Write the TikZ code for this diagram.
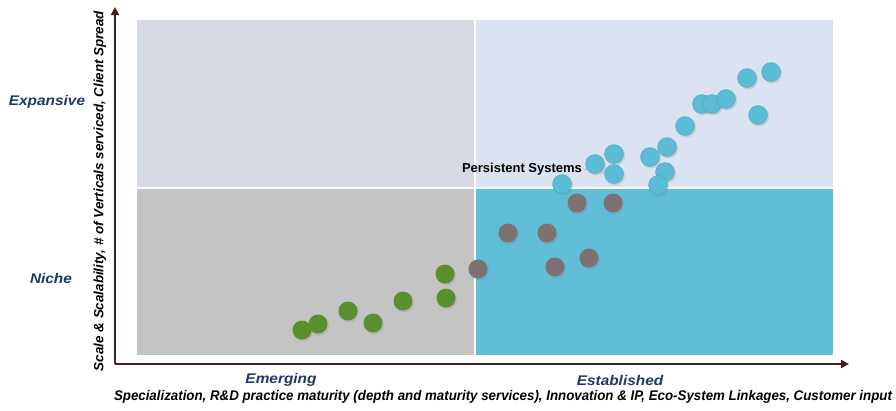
\documentclass[tikz,border=0pt]{standalone}
\usepackage{fontspec}
\setmainfont{Liberation Sans}
\newfontfamily\narrowfont[FakeStretch=0.95]{Liberation Sans}
\newfontfamily\widefont[FakeStretch=1.1]{Liberation Sans}
\usetikzlibrary{arrows.meta,shadows}

\definecolor{tlfill}{HTML}{D5DAE3}
\definecolor{trfill}{HTML}{DBE2F1}
\definecolor{blfill}{HTML}{C4C4C4}
\definecolor{brfill}{HTML}{60BED6}
\definecolor{cyandot}{HTML}{5BBCD6}
\definecolor{graydot}{HTML}{7D7172}
\definecolor{greendot}{HTML}{5A8F2E}
\definecolor{navy}{HTML}{1F3864}
\definecolor{axisbrown}{HTML}{4A1C1C}

\tikzset{
  dot/.style={circle, minimum size=19pt, inner sep=0pt,
    circular drop shadow={shadow xshift=0.8pt, shadow yshift=-1.2pt, opacity=0.25}},
  established/.style={dot, fill=cyandot, draw=cyandot!85!black, line width=0.3pt},
  mature/.style={dot, fill=graydot},
  emerging/.style={dot, fill=greendot},
  level/.style={font=\widefont\bfseries\itshape\fontsize{14}{16}\selectfont, text=navy},
  axislabel/.style={font=\bfseries\itshape\fontsize{13.4}{15}\selectfont, text=black},
  axisline/.style={draw=axisbrown, line width=2pt, -{Triangle[length=8pt,width=8pt]}},
}

\begin{document}
\begin{tikzpicture}[x=1pt, y=-1pt]
  \useasboundingbox (0,0) rectangle (896,410);
  % Quadrants
  \fill[tlfill] (137,20) rectangle (474,187);
  \fill[trfill] (476,20) rectangle (833,187);
  \fill[blfill] (137,189) rectangle (474,355);
  \fill[brfill] (476,189) rectangle (833,355);
  % Axes
  \coordinate (origin) at (115,364);
  \coordinate (ytip) at (115,7);
  \coordinate (xtip) at (849,364);
  \draw[axisline] (origin) -- (ytip);
  \draw[axisline] (origin) -- (xtip);
  % Labels
  \node[level] (expansive) at (47,102) {Expansive};
  \node[level] (niche) at (51,278) {Niche};
  \node[level] (emerging) at (281,380) {Emerging};
  \node[level] (established) at (620,380) {Established};
  \node[axislabel, rotate=90] (ylabel) at (100,191)
    {Scale \& Scalability, \# of Verticals serviced, Client Spread};
  \node[axislabel, font=\narrowfont\bfseries\itshape\fontsize{14}{16}\selectfont] (xlabel) at (503,397)
    {Specialization, R\&D practice maturity (depth and maturity services), Innovation \& IP, Eco-System Linkages, Customer input};
  % Emerging players
  \foreach \x/\y [count=\i] in {302/330, 318/324, 348/311, 373/323, 403/301, 445/274, 446/298}
    \node[emerging] (g\i) at (\x,\y) {};
  % Mid players
  \foreach \x/\y [count=\i] in {478/269, 508/233, 547/233, 555/267, 589/258, 577/203, 613/203}
    \node[mature] (m\i) at (\x,\y) {};
  % Established players
  \foreach \x/\y [count=\i] in {562/184, 595/164, 614/154, 614/174, 650/157, 667/147, 665/172,
      658/185, 685/126, 702/104, 712/104, 726/99, 747/78, 771/72, 758/115}
    \node[established] (c\i) at (\x,\y) {};
  % Callout
  \node[font=\bfseries\fontsize{13}{15}\selectfont, inner sep=1pt] (persistent) at (522,169) {Persistent Systems};
  \draw[black!35, line width=0.4pt] (persistent.east) -- (c4);
\end{tikzpicture}
\end{document}
